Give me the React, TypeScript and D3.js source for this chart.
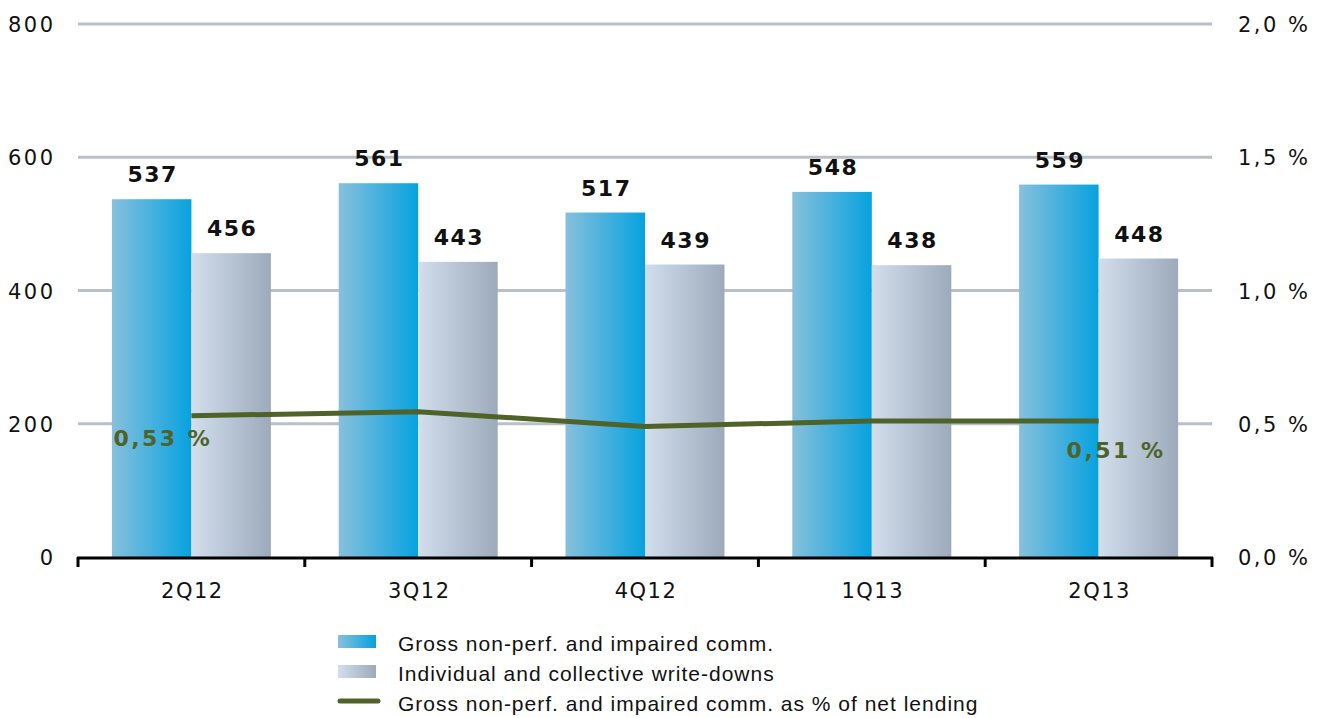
import React from "react";
import * as d3 from "d3";

const categories = ["2Q12", "3Q12", "4Q12", "1Q13", "2Q13"];
const grossValues = [537, 561, 517, 548, 559];
const writeDownValues = [456, 443, 439, 438, 448];
const pctValues = [0.53, 0.545, 0.49, 0.51, 0.51];
const leftTicks = [0, 200, 400, 600, 800];
const rightTicks = [0, 0.5, 1.0, 1.5, 2.0];
const legendLabels = [
  "Gross non-perf. and impaired comm.",
  "Individual and collective write-downs",
  "Gross non-perf. and impaired comm. as % of net lending",
];

const W = 1331, H = 718;
const left = 78, right = 1212, top = 24, bottom = 557;
const font = "'Liberation Sans', Arial, sans-serif";
const wide = "'DejaVu Sans', Verdana, sans-serif";
const green = "#4f6228";

export default function App() {
  const x = d3.scaleBand<string>().domain(categories).range([left, right]).paddingInner(0).paddingOuter(0);
  const y = d3.scaleLinear().domain([0, 800]).range([bottom, top]);
  const y2 = d3.scaleLinear().domain([0, 2.0]).range([bottom, top]);
  const bw = 79.5;
  const line = d3.line<number>()
    .x((_, i) => (x(categories[i]) as number) + x.bandwidth() / 2)
    .y((d) => y2(d));
  const fmtPct = (v: number, dec: number) => v.toFixed(dec).replace(".", ",") + " %";
  const cxOf = (i: number) => (x(categories[i]) as number) + x.bandwidth() / 2;

  return (
    <svg width={W} height={H} style={{ position: "absolute", left: 0, top: 0 }}>
      <defs>
        <linearGradient id="gBlue" x1="0" x2="1" y1="0" y2="0">
          <stop offset="0" stopColor="#87c0dc" />
          <stop offset="1" stopColor="#06a2df" />
        </linearGradient>
        <linearGradient id="gGray" x1="0" x2="1" y1="0" y2="0">
          <stop offset="0" stopColor="#d2deec" />
          <stop offset="1" stopColor="#9caabb" />
        </linearGradient>
      </defs>
      {leftTicks.filter((t) => t > 0).map((t) => (
        <line key={t} x1={left} x2={right} y1={y(t)} y2={y(t)} stroke="#b9c0c8" strokeWidth={3} />
      ))}
      {categories.map((c, i) => {
        const cx = cxOf(i);
        return (
          <g key={c}>
            <rect x={cx - bw} y={y(grossValues[i])} width={bw} height={bottom - y(grossValues[i])} fill="url(#gBlue)" />
            <rect x={cx} y={y(writeDownValues[i])} width={bw} height={bottom - y(writeDownValues[i])} fill="url(#gGray)" />
            <text x={cx - bw / 2 + 1} y={y(grossValues[i]) - 17} textAnchor="middle" fontFamily={wide} fontWeight="bold" fontSize={22} letterSpacing={1.5} fill="#111">{grossValues[i]}</text>
            <text x={cx + bw / 2 + 1} y={y(writeDownValues[i]) - 17} textAnchor="middle" fontFamily={wide} fontWeight="bold" fontSize={22} letterSpacing={1.5} fill="#111">{writeDownValues[i]}</text>
            <text x={cx + 1} y={598} textAnchor="middle" fontFamily={wide} fontSize={21} letterSpacing={1.5} fill="#111">{c}</text>
          </g>
        );
      })}
      <path d={line(pctValues) || ""} fill="none" stroke={green} strokeWidth={5} strokeLinejoin="round" />
      <text x={cxOf(0) - 78} y={446} fontFamily={wide} fontWeight="bold" fontSize={22} letterSpacing={2.5} fill={green}>{fmtPct(pctValues[0], 2)}</text>
      <text x={cxOf(4) - 32} y={458} fontFamily={wide} fontWeight="bold" fontSize={22} letterSpacing={2.5} fill={green}>{fmtPct(pctValues[4], 2)}</text>
      <line x1={left - 1} x2={right + 1} y1={bottom + 1} y2={bottom + 1} stroke="#000" strokeWidth={3} />
      {d3.range(categories.length + 1).map((i) => {
        const xx = left + i * x.bandwidth();
        return <line key={i} x1={xx} x2={xx} y1={bottom} y2={bottom + 10} stroke="#000" strokeWidth={3} />;
      })}
      {leftTicks.map((t) => (
        <text key={t} x={53 + 2.5} y={y(t) + 8} textAnchor="end" fontFamily={wide} fontSize={21} letterSpacing={2.5} fill="#111">{t}</text>
      ))}
      {rightTicks.map((t) => (
        <text key={t} x={1238} y={y2(t) + 8} fontFamily={wide} fontSize={21} letterSpacing={2.5} fill="#111">{fmtPct(t, 1)}</text>
      ))}
      <rect x={338} y={635} width={38} height={13} fill="url(#gBlue)" />
      <rect x={338} y={665} width={38} height={13} fill="url(#gGray)" />
      <line x1={340} x2={378} y1={701} y2={701} stroke={green} strokeWidth={5} strokeLinecap="round" />
      {legendLabels.map((l, i) => (
        <text key={l} x={398} y={651 + i * 30} fontFamily={font} fontSize={21} letterSpacing={1} fill="#111">{l}</text>
      ))}
    </svg>
  );
}
